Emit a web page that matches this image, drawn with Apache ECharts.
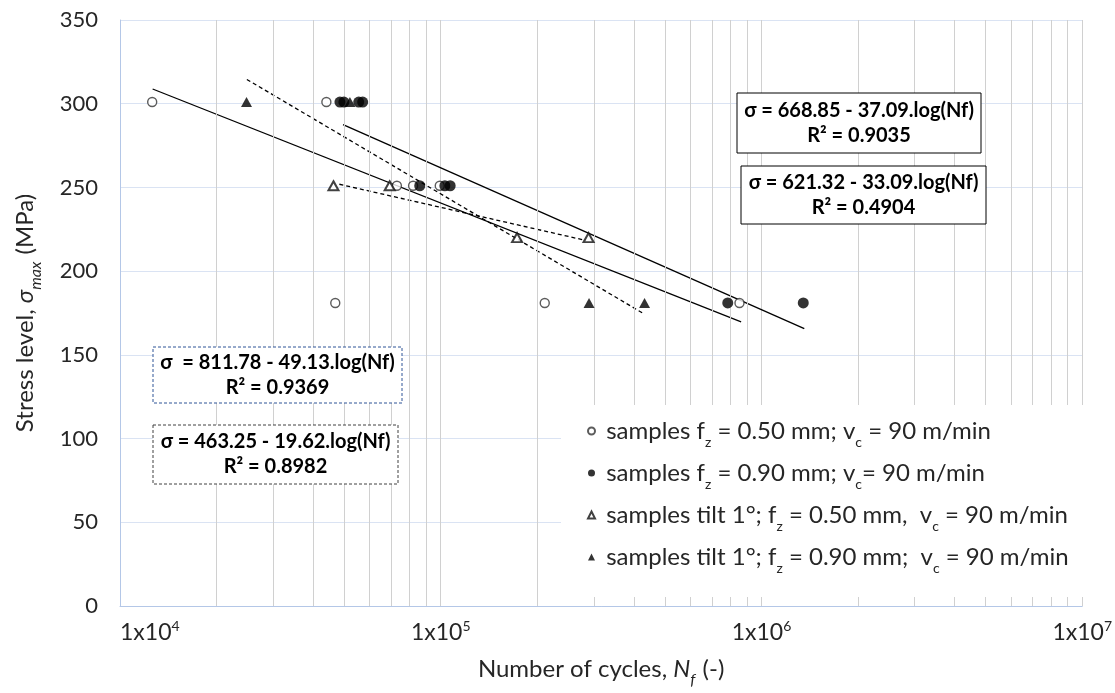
<!DOCTYPE html>
<html>
<head>
<meta charset="utf-8">
<script src="https://cdn.jsdelivr.net/npm/echarts@6/dist/echarts.min.js"></script>
<style>html,body{margin:0;padding:0;background:#fff;}#c{width:1115px;height:693px;}</style>
</head>
<body>
<div id="c"></div>
<script>
// ---- data ----
const openCircles = [[12600,301],[44000,301],[73000,251],[82000,251],[99300,251],[46900,181],[211000,181],[854000,181]];
const filledCircles = [[48500,301],[49900,301],[55500,301],[57100,301],[86000,251],[103000,251],[107000,251],[785000,181],[1350000,181]];
const openTriangles = [[46300,251],[69300,251],[173000,220],[289000,220]];
const filledTriangles = [[24800,301],[52100,301],[290000,181],[432000,181]];

// trend line end points
const trendOpenCircles = [[12640,308.8],[864000,169.7]];
const trendFilledCircles = [[49600,287.5],[1360000,165.7]];
const trendOpenTriangles = [[48300,251.9],[284000,218.3]];
const trendFilledTriangles = [[24860,314.5],[431000,174.4]];

const xTickExponents = {10000:'4',100000:'5',1000000:'6',10000000:'7'};
const minorGrid = [2e4,3e4,4e4,5e4,6e4,7e4,8e4,9e4,2e5,3e5,4e5,5e5,6e5,7e5,8e5,9e5,2e6,3e6,4e6,5e6,6e6,7e6,8e6,9e6];

const seriesNames = ['s1','s2','s3','s4'];
const legendRich = {
  s1: '{n| samples f}{s|z}{n| = 0.50 mm; v}{s|c}{n| = 90 m/min}',
  s2: '{n| samples f}{s|z}{n| = 0.90 mm; v}{s|c}{n|= 90 m/min}',
  s3: '{n| samples tilt 1°; f}{s|z}{n| = 0.50 mm,  v}{s|c}{n| = 90 m/min}',
  s4: '{n| samples tilt 1°; f}{s|z}{n| = 0.90 mm;  v}{s|c}{n| = 90 m/min}'
};

const annotations = [
  {x:737, y:93, w:244, h:60, lines:['σ = 668.85 - 37.09.log(Nf)','R² = 0.9035'], stroke:'#000', dash:null},
  {x:741, y:166, w:245, h:58, lines:['σ = 621.32 - 33.09.log(Nf)','R² = 0.4904'], stroke:'#000', dash:null},
  {x:153, y:347, w:249, h:56, lines:['σ  = 811.78 - 49.13.log(Nf)','R² = 0.9369'], stroke:'#2f5597', dash:[3,2]},
  {x:153, y:425, w:245, h:59, lines:['σ = 463.25 - 19.62.log(Nf)','R² = 0.8982'], stroke:'#404040', dash:[3,2]}
];

const FONT = 'Lato, "Open Sans", sans-serif';
const TXT = '#262626';
const chart = echarts.init(document.getElementById('c'), null, {renderer:'canvas'});

function trend(data, dashed){
  return {
    type:'line', data:data, symbol:'none', silent:true, z:3,
    lineStyle:{color:'#000', width:1.3, type: dashed ? [4,3] : 'solid'}
  };
}

const graphics = [];
annotations.forEach(a => {
  graphics.push({type:'rect', z:50, shape:{x:a.x, y:a.y, width:a.w, height:a.h},
    style:{fill:'#fff', stroke:a.stroke, lineWidth:1, lineDash:a.dash}});
  graphics.push({type:'text', z:51, x:a.x + a.w/2, y:a.y + a.h/2,
    style:{text:a.lines.join('\n'), textAlign:'center', textVerticalAlign:'middle',
      font:'bold 20px ' + FONT, lineHeight:25, fill:'#000'}});
});

const nameRich = {
  n:{fontFamily:FONT, fontSize:24, color:TXT, lineHeight:30},
  i:{fontFamily:FONT, fontSize:24, fontStyle:'italic', color:TXT, lineHeight:30},
  sub:{fontFamily:FONT, fontSize:16, fontStyle:'italic', color:TXT, lineHeight:16, verticalAlign:'bottom', padding:[0,1,-4,0]}
};

const option = {
  animation:false,
  backgroundColor:'#fff',
  grid:{left:120, right:32, top:20, bottom:81, containLabel:false},
  xAxis:{
    type:'log', logBase:10, min:1e4, max:1e7,
    name:'{n|Number of cycles, }{i|N}{sub|f}{n| (-)}',
    nameLocation:'middle', nameGap:48,
    nameTextStyle:{rich:nameRich},
    axisLine:{show:true, lineStyle:{color:'#b4c7e7', width:1}},
    axisTick:{show:false},
    splitLine:{show:true, lineStyle:{color:'#d0d0d0', width:1}},
    axisLabel:{
      margin:13, alignMinLabel:'left',
      formatter: v => '{a|1x10}{s|' + (xTickExponents[Math.round(v)] || '') + '}',
      rich:{
        a:{fontFamily:FONT, fontSize:23, color:TXT, lineHeight:27},
        s:{fontFamily:FONT, fontSize:14, color:TXT, lineHeight:14, verticalAlign:'top'}
      }
    }
  },
  yAxis:{
    type:'value', min:0, max:350, interval:50,
    name:'{n|Stress level, }{i|σ}{sub|max}{n| (MPa)}',
    nameLocation:'middle', nameGap:80, nameRotate:90,
    nameTextStyle:{rich:nameRich},
    axisLine:{show:true, lineStyle:{color:'#b4c7e7', width:1}},
    axisTick:{show:false},
    splitLine:{show:true, lineStyle:{color:'#dae3f3', width:1}},
    axisLabel:{margin:22, fontFamily:FONT, fontSize:22, color:TXT}
  },
  legend:{
    orient:'vertical', left:561, top:405, z:60,
    data: seriesNames,
    backgroundColor:'#fff',
    padding:[14, 20, 22, 26],
    itemGap:12, itemWidth:7, itemHeight:7,
    formatter: name => legendRich[name],
    textStyle:{rich:{
      n:{fontFamily:FONT, fontSize:24, color:TXT, lineHeight:28},
      s:{fontFamily:FONT, fontSize:14, color:TXT, lineHeight:14, verticalAlign:'bottom', padding:[0,0,-4,0]}
    }}
  },
  graphic: graphics,
  series:[
    Object.assign(trend(trendOpenCircles,false), {name:'t1',
      markLine:{silent:true, symbol:'none', label:{show:false},
        lineStyle:{color:'#d0d0d0', width:1, type:'solid'},
        data: minorGrid.map(v => ({xAxis:v}))}}),
    Object.assign(trend(trendFilledCircles,false), {name:'t2'}),
    Object.assign(trend(trendOpenTriangles,true), {name:'t3'}),
    Object.assign(trend(trendFilledTriangles,true), {name:'t4'}),
    {name:'s1', type:'scatter', data:openCircles, symbol:'circle', symbolSize:9, z:5,
      itemStyle:{color:'#fff', borderColor:'#333', borderWidth:1.4}},
    {name:'s2', type:'scatter', data:filledCircles, symbol:'circle', symbolSize:11, z:5,
      itemStyle:{color:'#000', borderColor:'#000', borderWidth:0}},
    {name:'s3', type:'scatter', data:openTriangles, symbol:'triangle', symbolSize:[10,9], z:5,
      itemStyle:{color:'#fff', borderColor:'#111', borderWidth:2}},
    {name:'s4', type:'scatter', data:filledTriangles, symbol:'triangle', symbolSize:[11,10], z:5,
      itemStyle:{color:'#000', borderColor:'#000', borderWidth:0}}
  ]
};
chart.setOption(option);
</script>
</body>
</html>
